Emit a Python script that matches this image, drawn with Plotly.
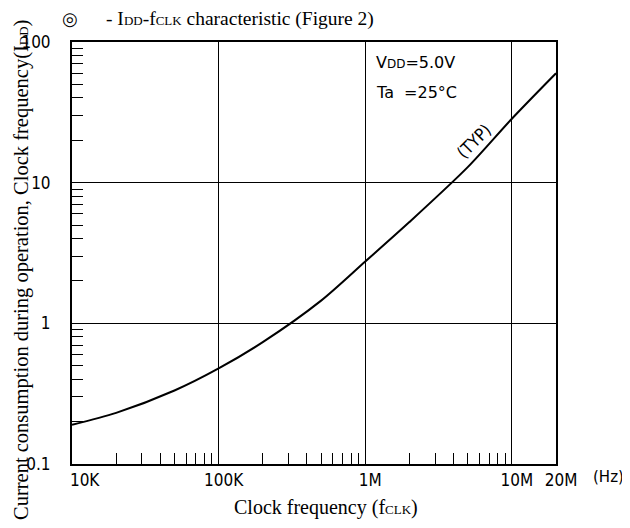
import plotly.graph_objects as go

# Data (TYP)
freq_hz = [1e4, 2e4, 5e4, 1e5, 2e5, 5e5, 1e6, 2e6, 5e6, 1e7, 2e7]
idd = [0.19, 0.231, 0.333, 0.478, 0.735, 1.45, 2.75, 5.25, 12.9, 28.5, 60]

x_tick_vals = [1e4, 1e5, 1e6, 1e7, 2e7]
x_tick_text = ["\u2002\u200210K", "100K", "1M", "10M", "20M"]
y_tick_vals = [0.1, 1, 10, 100]
y_tick_text = ["0.1", "1", "10", "100"]

x_minor = [m * 10 ** e for e in (4, 5, 6) for m in range(2, 10)] + [2e7]
y_minor = [m * 10 ** e for e in (-1, 0, 1) for m in range(2, 10)]

serif = "Liberation Serif"
sans = "DejaVu Sans"
cond = "DejaVu Sans Condensed, DejaVu Sans"

# the html page body has an 8px margin; compensate so the plot sits where intended
OFF = 8
W, H = 630 - OFF, 528 - OFF
ML, MT = 72 - OFF, 42 - OFF
MR = W - (556 - OFF)
MB = H - (464 - OFF)

fig = go.Figure()
fig.add_trace(go.Scatter(
    x=freq_hz, y=idd, mode="lines",
    line=dict(color="black", width=2, shape="spline", smoothing=0.8),
    showlegend=False, hoverinfo="skip",
))

fig.update_layout(
    width=W, height=H,
    margin=dict(l=ML, r=MR, t=MT, b=MB),
    paper_bgcolor="white", plot_bgcolor="white",
    font=dict(family=sans, color="black", size=15),
    xaxis=dict(
        type="log", range=[4, 7.30103],
        tickvals=x_tick_vals, ticktext=x_tick_text,
        ticks="", ticklabelstandoff=0, ticklabelshift=5,
        showgrid=True, gridcolor="black", gridwidth=1.4,
        showline=True, linecolor="black", linewidth=2, mirror=True,
        zeroline=False,
        tickfont=dict(family=cond, size=17),
        minor=dict(tickvals=x_minor, ticks="inside", ticklen=11,
                   tickcolor="black", tickwidth=1.3, showgrid=False),
    ),
    yaxis=dict(
        type="log", range=[-1, 2],
        tickvals=y_tick_vals, ticktext=y_tick_text,
        ticks="", ticklabelstandoff=16,
        showgrid=True, gridcolor="black", gridwidth=1.4,
        showline=True, linecolor="black", linewidth=2, mirror=True,
        zeroline=False,
        tickfont=dict(family=cond, size=17),
        minor=dict(tickvals=y_minor, ticks="inside", ticklen=11,
                   tickcolor="black", tickwidth=1.3, showgrid=False),
    ),
)

sm = "font-size:13px"
sm2 = "font-size:12px"
annotations = [
    # top title
    dict(x=70, y=19, text="◎", font=dict(family=sans, size=18)),
    dict(x=104, y=19, text=f"- I<span style='{sm}'>DD</span>-f<span style='{sm}'>CLK</span> characteristic (Figure 2)",
         font=dict(family=serif, size=19.5), xanchor="left"),
    # x title
    dict(x=326, y=507, text=f"Clock frequency (f<span style='{sm}'>CLK</span>)",
         font=dict(family=serif, size=20)),
    # Hz unit
    dict(x=608, y=477, text="(Hz)", font=dict(family=sans, size=15)),
    # y title
    dict(x=21, y=270, text=f"Current consumption during operation, Clock frequency(I<span style='{sm}'>DD</span>)",
         font=dict(family=serif, size=20.5), textangle=-90),
    # conditions
    dict(x=374, y=62, text=f"V<span style='{sm2}'>DD</span>=5.0V",
         font=dict(family=sans, size=16), xanchor="left"),
    dict(x=374, y=92, text="Ta  =25°C",
         font=dict(family=sans, size=16), xanchor="left"),
    dict(x=474, y=141, text="(TYP)", textangle=-45,
         font=dict(family=cond, size=17)),
]
for a in annotations:
    a.setdefault("xref", "paper")
    a.setdefault("yref", "paper")
    px, py = a["x"] - OFF, a["y"] - OFF
    a["x"] = (px - ML) / (W - ML - MR)
    a["y"] = 1 - (py - MT) / (H - MT - MB)
    a["showarrow"] = False
    a.setdefault("xanchor", "center")
    a["yanchor"] = "middle"
    fig.add_annotation(**a)

fig.write_html("out.html")
